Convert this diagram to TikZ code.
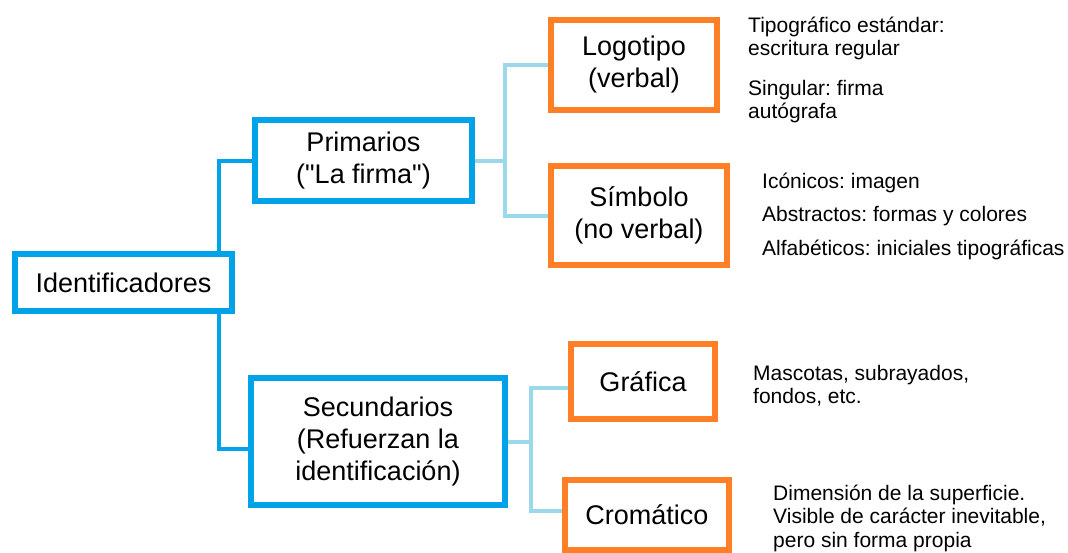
\documentclass[tikz,border=0pt]{standalone}
\usepackage{fontspec}
\setmainfont{Liberation Sans}[Ligatures=TeXOff]
\usepackage{tikz}
\usetikzlibrary{positioning}
\frenchspacing
\definecolor{idblue}{RGB}{0,162,232}
\definecolor{idorange}{RGB}{255,127,39}
\definecolor{idlight}{RGB}{153,217,234}
\tikzstyle{mainbox} = [rectangle, draw=idblue, line width=6pt, fill=white, inner sep=0pt, align=center, font={\fontsize{27}{32}\selectfont}]
\tikzstyle{subbox} = [rectangle, draw=idorange, line width=6pt, fill=white, inner sep=0pt, align=center, font={\fontsize{27}{32}\selectfont}]
\tikzstyle{trunk} = [draw=idblue, line width=4pt]
\tikzstyle{link} = [draw=idlight, line width=4pt]
\tikzstyle{note} = [inner sep=0pt, anchor=base west, align=left, font={\fontsize{21}{23}\selectfont}]

\begin{document}
\begin{tikzpicture}[x=1pt, y=-1pt]
\useasboundingbox (0,0) rectangle (1068,552);

\node (Ident) [mainbox, minimum width=217pt, minimum height=57pt] at (123.5,282.5) {Identificadores};
\node (Prim) [mainbox, minimum width=217pt, minimum height=81pt] at (363.5,160.5) {Primarios\\("La firma")};
\node (Sec) [mainbox, minimum width=254pt, minimum height=127pt] at (378,441.5) {Secundarios\\(Refuerzan la\\identificación)};

\node (Logo) [subbox, minimum width=166pt, minimum height=90pt] at (634,65) {Logotipo\\(verbal)};
\node (Simb) [subbox, minimum width=176pt, minimum height=99pt] at (639,215.5) {Símbolo\\(no verbal)};
\node (Graf) [subbox, minimum width=144pt, minimum height=75pt] at (643,381.5) {Gráfica};
\node (Crom) [subbox, minimum width=164pt, minimum height=70pt] at (647,515) {Cromático};

% notes: anchored at the baseline of their last line
\node (TipoTxt) [note] at (748,55) {Tipográfico estándar:\\escritura regular};
\node (SingTxt) [note] at (748,118) {Singular: firma\\autógrafa};
\node (IconTxt) [note, font={\fontsize{21}{33.5}\selectfont}] at (762,255) {Icónicos: imagen\\Abstractos: formas y colores\\Alfabéticos: iniciales tipográficas};
\node (MascTxt) [note] at (753,403) {Mascotas, subrayados,\\fondos, etc.};
\node (DimTxt) [note, font={\fontsize{21}{23.5}\selectfont}] at (773,547) {Dimensión de la superficie.\\Visible de carácter inevitable,\\pero sin forma propia};

% blue trunk
\draw [trunk] ([xshift=95pt]Ident.north) |- (Prim.west);
\draw [trunk] ([xshift=95pt]Ident.south) |- ([yshift=-7pt]Sec.west);

% light branches
\coordinate (PrimJ) at (505,160.5);
\coordinate (SecJ) at (531,441.5);
\draw [link] (Prim.east) -- (PrimJ);
\draw [link] (Logo.west) -| (PrimJ) |- (Simb.west);
\draw [link] (Sec.east) -- (SecJ);
\draw [link] ([yshift=-6pt]Graf.west) -| (SecJ) |- ([yshift=4pt]Crom.west);
\end{tikzpicture}
\end{document}
